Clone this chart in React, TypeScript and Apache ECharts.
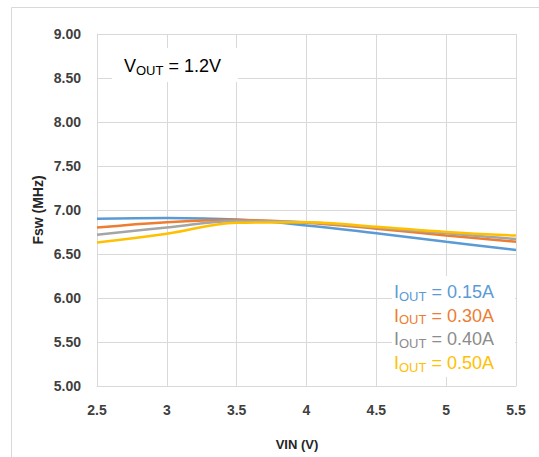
import React, { useEffect, useRef } from "react";
import * as echarts from "echarts";

const vin = [2.5, 3, 3.5, 4, 4.5, 5, 5.5];
const seriesNames = ["0.15A", "0.30A", "0.40A", "0.50A"];
const seriesColors = ["#5B9BD5", "#ED7D31", "#A5A5A5", "#FFC000"];
const legendTextColors = ["#5B9BD5", "#ED7D31", "#8C8C8C", "#FFC000"];
const iout015 = [6.9, 6.91, 6.892, 6.825, 6.735, 6.64, 6.545];
const iout030 = [6.8, 6.862, 6.886, 6.855, 6.787, 6.71, 6.64];
const iout040 = [6.72, 6.8, 6.876, 6.86, 6.8, 6.735, 6.67];
const iout050 = [6.63, 6.73, 6.855, 6.862, 6.81, 6.75, 6.71];
const seriesValues = [iout015, iout030, iout040, iout050];
const yTickDecimals = 2;

export default function App() {
  const ref = useRef<HTMLDivElement>(null);
  useEffect(() => {
    if (!ref.current) return;
    const chart = echarts.init(ref.current, null, { renderer: "svg" });
    const font = "'Liberation Sans', Arial, sans-serif";
    const axisLabel = {
      color: "#404040",
      fontWeight: "bold" as const,
      fontSize: 14,
      fontFamily: font,
    };
    chart.setOption({
      animation: false,
      backgroundColor: "#ffffff",
      grid: { left: 97, top: 34, right: 23, bottom: 71, containLabel: false },
      xAxis: {
        type: "value",
        min: 2.5,
        max: 5.5,
        interval: 0.5,
        axisLine: { show: true, lineStyle: { color: "#d9d9d9", width: 1 } },
        axisTick: { show: false },
        splitLine: { show: true, lineStyle: { color: "#d9d9d9", width: 1 } },
        axisLabel: { ...axisLabel, margin: 17 },
      },
      yAxis: {
        type: "value",
        min: 5,
        max: 9,
        interval: 0.5,
        axisLine: { show: true, lineStyle: { color: "#d9d9d9", width: 1 } },
        axisTick: { show: false },
        splitLine: { show: true, lineStyle: { color: "#d9d9d9", width: 1 } },
        axisLabel: {
          ...axisLabel,
          margin: 16,
          formatter: (v: number) => v.toFixed(yTickDecimals),
        },
      },
      series: seriesValues.map((vals, i) => ({
        name: "IOUT = " + seriesNames[i],
        type: "line",
        smooth: 0.4,
        showSymbol: false,
        symbol: "none",
        data: vin.map((x, j) => [x, vals[j]]),
        lineStyle: { color: seriesColors[i], width: 2.5 },
        itemStyle: { color: seriesColors[i] },
        z: 2 + i,
      })),
      graphic: [
        {
          type: "rect",
          shape: { x: 11.5, y: 7.5, width: 700, height: 700 },
          style: { fill: "none", stroke: "#d9d9d9", lineWidth: 1 },
          silent: true,
          z: 0,
        },
        {
          type: "rect",
          shape: { x: 112, y: 48, width: 126, height: 34 },
          style: { fill: "#ffffff" },
          z: 10,
        },
        {
          type: "text",
          x: 124,
          y: 66,
          z: 11,
          style: {
            text: "{v|V}{s|OUT}{v| = 1.2V}",
            verticalAlign: "middle",
            rich: {
              v: { fontSize: 18, fontFamily: font, fill: "#000000" },
              s: { fontSize: 13, fontFamily: font, fill: "#000000", padding: [8, 0, 0, 0] },
            },
          },
        },
        {
          type: "rect",
          shape: { x: 392, y: 276, width: 123, height: 101 },
          style: { fill: "#ffffff" },
          z: 10,
        },
        ...seriesNames.map((n, i) => ({
          type: "text",
          x: 394,
          y: 292 + i * 23.7,
          z: 11,
          style: {
            text: "{v|I}{s|OUT}{v| = " + n + "}",
            verticalAlign: "middle",
            rich: {
              v: { fontSize: 18, fontFamily: font, fill: legendTextColors[i] },
              s: { fontSize: 13, fontFamily: font, fill: legendTextColors[i], padding: [8, 0, 0, 0] },
            },
          },
        })),
        {
          type: "text",
          x: 297,
          y: 444,
          z: 11,
          style: {
            text: "VIN (V)",
            align: "center",
            verticalAlign: "middle",
            fontSize: 13,
            fontWeight: "bold",
            fontFamily: font,
            fill: "#262626",
          },
        },
        {
          type: "text",
          x: 38,
          y: 210,
          rotation: Math.PI / 2,
          z: 11,
          style: {
            text: "Fsw (MHz)",
            align: "center",
            verticalAlign: "middle",
            fontSize: 14,
            fontWeight: "bold",
            fontFamily: font,
            fill: "#262626",
          },
        },
      ],
    });
    return () => chart.dispose();
  }, []);
  return (
    <div
      ref={ref}
      style={{ position: "fixed", left: 0, top: 0, width: 539, height: 457 }}
    />
  );
}
